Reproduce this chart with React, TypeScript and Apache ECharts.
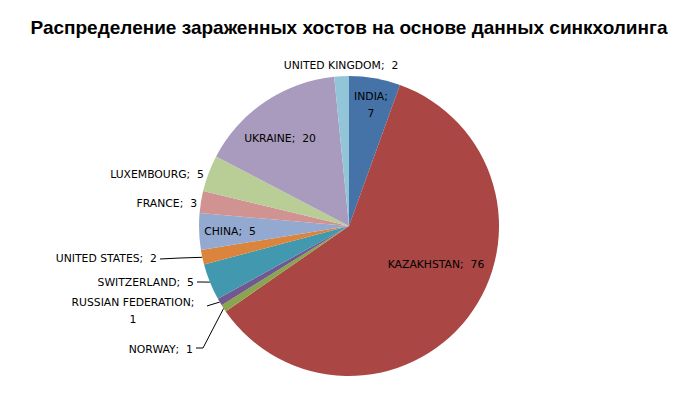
import React, { useEffect, useRef } from 'react';
import * as echarts from 'echarts';

const titleText = 'Распределение зараженных хостов на основе данных синкхолинга';
const categories = [
  'INDIA',
  'KAZAKHSTAN',
  'NORWAY',
  'RUSSIAN FEDERATION',
  'SWITZERLAND',
  'UNITED STATES',
  'CHINA',
  'FRANCE',
  'LUXEMBOURG',
  'UKRAINE',
  'UNITED KINGDOM',
];
const values = [7, 76, 1, 1, 5, 2, 5, 3, 5, 20, 2];

const colors = [
  '#4572A7',
  '#AA4643',
  '#89A54E',
  '#71588F',
  '#4198AF',
  '#DB843D',
  '#93A9CF',
  '#D19392',
  '#B9CD96',
  '#A99BBD',
  '#92C5D7',
];

// label placement (layout only)
type Place = { x: number; y: number; align: 'left' | 'center' | 'right'; line?: number[][]; wrap?: boolean };
const placement: Record<string, Place> = {
  INDIA: { x: 371, y: 105, align: 'center', wrap: true },
  KAZAKHSTAN: { x: 436, y: 264, align: 'center' },
  UKRAINE: { x: 280, y: 138, align: 'center' },
  CHINA: { x: 230, y: 231, align: 'center' },
  'UNITED KINGDOM': { x: 341, y: 65, align: 'center' },
  LUXEMBOURG: { x: 204, y: 174, align: 'right' },
  FRANCE: { x: 197, y: 203, align: 'right' },
  'UNITED STATES': { x: 157, y: 258, align: 'right', line: [[180, 258], [160, 259]] },
  SWITZERLAND: { x: 194, y: 282, align: 'right', line: [[200, 282], [197, 282]] },
  'RUSSIAN FEDERATION': { x: 133, y: 311, align: 'center', wrap: true, line: [[210, 305], [207, 306]] },
  NORWAY: { x: 193, y: 349, align: 'right', line: [[203, 348], [196, 348]] },
};

export default function App() {
  const ref = useRef<HTMLDivElement>(null);
  useEffect(() => {
    if (!ref.current) return;
    const chart = echarts.init(ref.current, undefined, { renderer: 'svg' });
    const data = categories.map((name, i) => {
      const p = placement[name];
      return {
        name,
        value: values[i],
        itemStyle: { color: colors[i] },
        label: { position: 'outside' },
        labelLine: { show: !!p.line },
      };
    });
    chart.setOption({
      animation: false,
      backgroundColor: '#ffffff',
      title: {
        text: titleText,
        left: 'center',
        top: 13,
        textStyle: {
          fontFamily: 'Liberation Sans, Arial, sans-serif',
          fontWeight: 'bold',
          fontSize: 19,
          color: '#000000',
        },
      },
      series: [
        {
          type: 'pie',
          center: [349, 226],
          radius: 150,
          startAngle: 90,
          clockwise: true,
          avoidLabelOverlap: false,
          itemStyle: { borderWidth: 0 },
          label: {
            show: true,
            fontFamily: 'DejaVu Sans, sans-serif',
            fontSize: 10.8,
            color: '#000000',
            lineHeight: 17,
            formatter: (p: any) => {
              const pl = placement[p.name];
              return pl && pl.wrap ? `${p.name};\n${p.value}` : `${p.name};  ${p.value}`;
            },
          },
          labelLine: {
            lineStyle: { color: '#000000', width: 1 },
            length: 10,
            length2: 10,
          },
          labelLayout: (params: any) => {
            const name = categories[params.dataIndex];
            const p = placement[name];
            const res: any = { x: p.x, y: p.y, align: p.align, verticalAlign: 'middle' };
            if (p.line && params.labelLinePoints) {
              res.labelLinePoints = [params.labelLinePoints[0], ...p.line];
            }
            return res;
          },
          data,
        },
      ],
    });
    return () => chart.dispose();
  }, []);
  return (
    <div
      ref={ref}
      style={{ position: 'fixed', left: 0, top: 0, width: 698, height: 412 }}
    />
  );
}
